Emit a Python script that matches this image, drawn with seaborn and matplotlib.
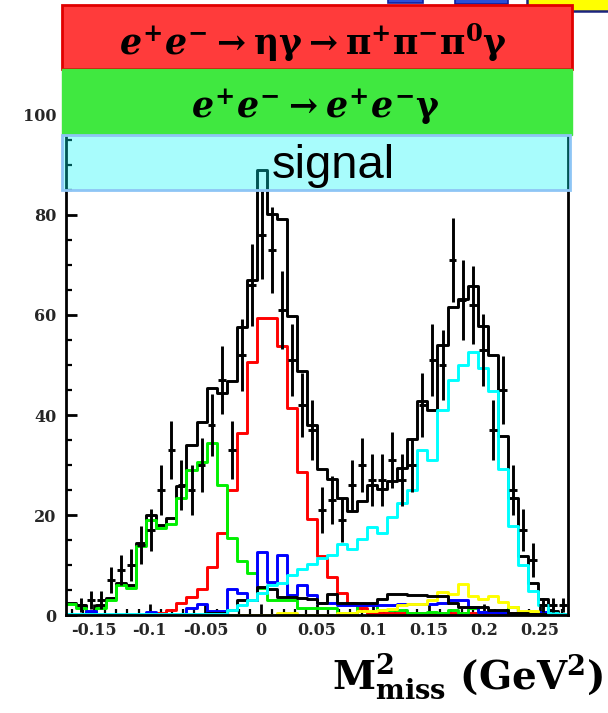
import numpy as np
import pandas as pd
import matplotlib
matplotlib.use("Agg")
import matplotlib.pyplot as plt
import seaborn as sns
from matplotlib.patches import Rectangle

# ---------------- data (50 bins) ----------------
bin_lo, bin_hi, n_bins = -0.175, 0.275, 50

data_counts = [0, 2, 3, 3, 7, 9, 10, 14, 17, 25,
               33, 26, 25, 30, 38, 47, 33, 52, 66, 76,
               73, 61, 51, 42, 37, 21, 23, 19, 26, 30,
               27, 27, 31, 27, 30, 42, 51, 50, 71, 63,
               62, 53, 37, 45, 25, 17, 11, 2, 2, 2]

mc_total = [2.5, 2, 0.5, 2, 3.5, 6.5, 6, 14.5, 20, 18,
            19.5, 25.8, 34, 38.7, 45.5, 44.3, 46.8, 57.7, 66.9, 89,
            80.3, 79.2, 59.8, 48.7, 38, 29.3, 27.3, 23.4, 20.9, 22.7,
            26, 25.3, 26.8, 29.5, 35.2, 42.7, 41, 54, 61.5, 63.2,
            65.8, 57.8, 52, 35.8, 23.4, 11.8, 6.5, 3.3, 0.7, 0.3]

eta_gamma = [0, 0, 0, 0, 0, 0, 0, 0, 0.3, 0.5,
             1, 2.5, 3.7, 5.3, 9.7, 16.5, 25, 36.5, 50.5, 59.3,
             59.3, 53.8, 41.3, 28.7, 19.2, 11.8, 7.7, 4.5, 2.3, 1.3,
             0.5, 0.5, 0.5, 0.5, 0.5, 0.5, 0.5, 0.5, 0.5, 0.5,
             0.5, 0.5, 0.5, 0.5, 0.5, 0.5, 0.2, 0.2, 0.2, 0.2]

ee_gamma = [2.3, 1.5, 0, 1.5, 3, 6.1, 5.5, 13.8, 19.1, 17.5,
            18.2, 23.5, 29, 30.7, 34.4, 26, 15.3, 10.7, 8.4, 5.5,
            3, 3, 3, 1.5, 1.5, 1.5, 1.5, 0.4, 0.4, 2,
            2, 1, 1, 1, 0.3, 0.3, 0.7, 0.5, 1, 0.5,
            1.5, 0.7, 0.7, 0.7, 1.7, 0, 0, 0, 0, 0]

bkg_blue = [0, 0, 0.8, 0, 0, 0, 0, 0, 0.7, 0,
            0, 0, 1.4, 2.2, 0.8, 0.8, 5.2, 4.5, 3, 12.7,
            6.7, 12, 4, 6, 4, 2.5, 2.5, 2, 2, 2,
            2, 2, 2, 2.2, 2.3, 2.3, 2.3, 2.5, 3, 3,
            1.7, 0.7, 0.7, 0.5, 0.3, 0.3, 0.3, 0.7, 0.3, 0]

bkg_yellow = [0, 0, 0, 0, 0, 0, 0, 0, 0, 0,
              0, 0, 0, 0, 0, 0, 0, 0, 0, 0,
              0, 0.5, 0.5, 0, 0, 0, 0, 0.5, 0.5, 0.8,
              0.8, 1, 1.3, 2, 2.2, 2.2, 3, 4.7, 4.3, 6.2,
              3.8, 3.3, 3.8, 2.7, 1.7, 0.9, 0.9, 0.3, 0.3, 0]

bkg_black = [0, 0, 0, 0, 0, 0, 0, 0, 0, 0,
             0, 0, 0, 0, 0.5, 0.5, 1, 3, 3, 5.7,
             5.3, 3.6, 3.6, 3.4, 3.3, 2.5, 4.2, 2.5, 2.5, 2.5,
             2.5, 3.3, 4.2, 4.2, 4, 4, 3.9, 3.9, 2.5, 1.7,
             1.7, 1.7, 1.0, 1.0, 0.5, 0.5, 0.3, 0.3, 0.2, 0]

signal = [0.2, 0.2, 0.2, 0.2, 0.2, 0.2, 0.2, 0.2, 0.2, 0.2,
          0.2, 0.2, 0.2, 0.2, 0.2, 0.2, 1, 2, 3, 4.5,
          6, 6.5, 8, 9.2, 10.3, 11.5, 12, 14.3, 13.3, 15.3,
          17.7, 16.3, 19.7, 22.3, 25, 33, 31, 41, 47, 50,
          52.7, 49.5, 44.7, 29.3, 17.7, 10, 4.7, 2, 0.5, 0.2]

x_ticks = [-0.15, -0.1, -0.05, 0, 0.05, 0.1, 0.15, 0.2, 0.25]
x_tick_labels = ["-0.15", "-0.1", "-0.05", "0", "0.05", "0.1", "0.15", "0.2", "0.25"]
y_ticks = [0, 20, 40, 60, 80, 100]
y_tick_labels = ["0", "20", "40", "60", "80", "100"]

label_red = r"$e^{+}e^{-}\rightarrow\mathrm{\eta\gamma}\rightarrow\mathrm{\pi^{+}\pi^{-}\pi^{0}\gamma}$"
label_green = r"$e^{+}e^{-}\rightarrow e^{+}e^{-}\mathrm{\gamma}$"
label_signal = "signal"
x_title = r"$\mathrm{M^{2}_{miss}\ (GeV^{2})}$"

# ---------------- style ----------------
sns.set_theme(style="white")
plt.rcParams["font.family"] = ["DejaVu Serif", "DejaVu Sans"]
plt.rcParams["mathtext.fontset"] = "custom"
plt.rcParams["mathtext.rm"] = "DejaVu Serif:bold"
plt.rcParams["mathtext.it"] = "DejaVu Serif:bold:italic"
plt.rcParams["mathtext.bf"] = "DejaVu Serif:bold"

W, H = 608, 713
fig = plt.figure(figsize=(W / 100, H / 100), dpi=100)
ax = fig.add_axes([66 / W, (H - 615) / H, (568 - 66) / W, 525 / H])

edges = np.linspace(bin_lo, bin_hi, n_bins + 1)
centers = 0.5 * (edges[:-1] + edges[1:])
edge_list = [float(e) for e in edges]

series = [
    (mc_total, "black"),
    (eta_gamma, "#ff0000"),
    (ee_gamma, "#00f000"),
    (bkg_blue, "#0000ff"),
    (bkg_yellow, "#ffff00"),
    (bkg_black, "black"),
    (signal, "#00ffff"),
]
for vals, col in series:
    df = pd.DataFrame({"m2": centers, "w": np.asarray(vals, dtype=float)})
    sns.histplot(data=df, x="m2", weights="w", bins=edge_list, element="step",
                 fill=False, color=col, linewidth=2.1, ax=ax)

d = np.array(data_counts, dtype=float)
m = d > 0
ax.errorbar(centers[m], d[m], yerr=np.sqrt(d[m]), xerr=0.0035, fmt="none",
            ecolor="black", elinewidth=2.1, capsize=0, zorder=5)

ax.set_xlim(bin_lo, bin_hi)
ax.set_ylim(0, 105)
ax.set_xlabel("")
ax.set_ylabel("")
ax.set_xticks(x_ticks)
ax.set_xticklabels(x_tick_labels, fontweight="bold", fontsize=11.5)
ax.set_yticks(y_ticks)
ax.set_yticklabels(y_tick_labels, fontweight="bold", fontsize=11.5)
ax.set_xticks(np.arange(-0.17, 0.275, 0.01), minor=True)
ax.set_yticks(np.arange(0, 105, 5), minor=True)
ax.tick_params(which="major", direction="in", length=8, width=2, color="black",
               left=True, bottom=True, right=False, top=False)
ax.tick_params(which="minor", direction="in", length=4, width=1.6, color="black",
               left=True, bottom=True, right=False, top=False)
ax.tick_params(axis="x", pad=5)
ax.tick_params(axis="y", pad=7)
for s in ["left", "bottom", "right"]:
    ax.spines[s].set_color("black")
    ax.spines[s].set_linewidth(2)
ax.spines["top"].set_visible(False)


def box(x0, y0, x1, y1, fc, ec, lw, z):
    r = Rectangle((x0 / W, 1 - y1 / H), (x1 - x0) / W, (y1 - y0) / H,
                  transform=fig.transFigure, facecolor=fc, edgecolor=ec,
                  linewidth=lw, zorder=z)
    fig.add_artist(r)


# top-right decorations (clipped slide graphics)
box(388, -8, 423, 3, "#2a4fd8", "#1020a0", 1.2, 3)
box(455, -8, 508, 4, "#2a4fd8", "#1020a0", 1.2, 3)
box(527, -8, 620, 11, "#ffff00", "#1a237e", 1.8, 3)

# legend boxes
box(62, 5, 572, 69, "#ff3b3b", "#e00000", 2, 3)
box(62, 69, 572, 135, "#40e840", "#40e840", 1, 3)
box(62, 135, 570, 190, (0.0, 0.97, 0.97, 0.34), "#8ec5f5", 2, 3)

fig.text(314 / W, 1 - 55 / H, label_red, ha="center", va="baseline",
         fontsize=25, color="black", zorder=4)
fig.text(316 / W, 1 - 118 / H, label_green, ha="center", va="baseline",
         fontsize=25, color="black", zorder=4)
fig.text(333 / W, 1 - 178 / H, label_signal, ha="center", va="baseline",
         fontsize=34, family="Liberation Sans", color="black", zorder=4)
fig.text(603 / W, 1 - 690 / H, x_title, ha="right", va="baseline",
         fontsize=28, color="black")

fig.savefig("out.png", dpi=100)
